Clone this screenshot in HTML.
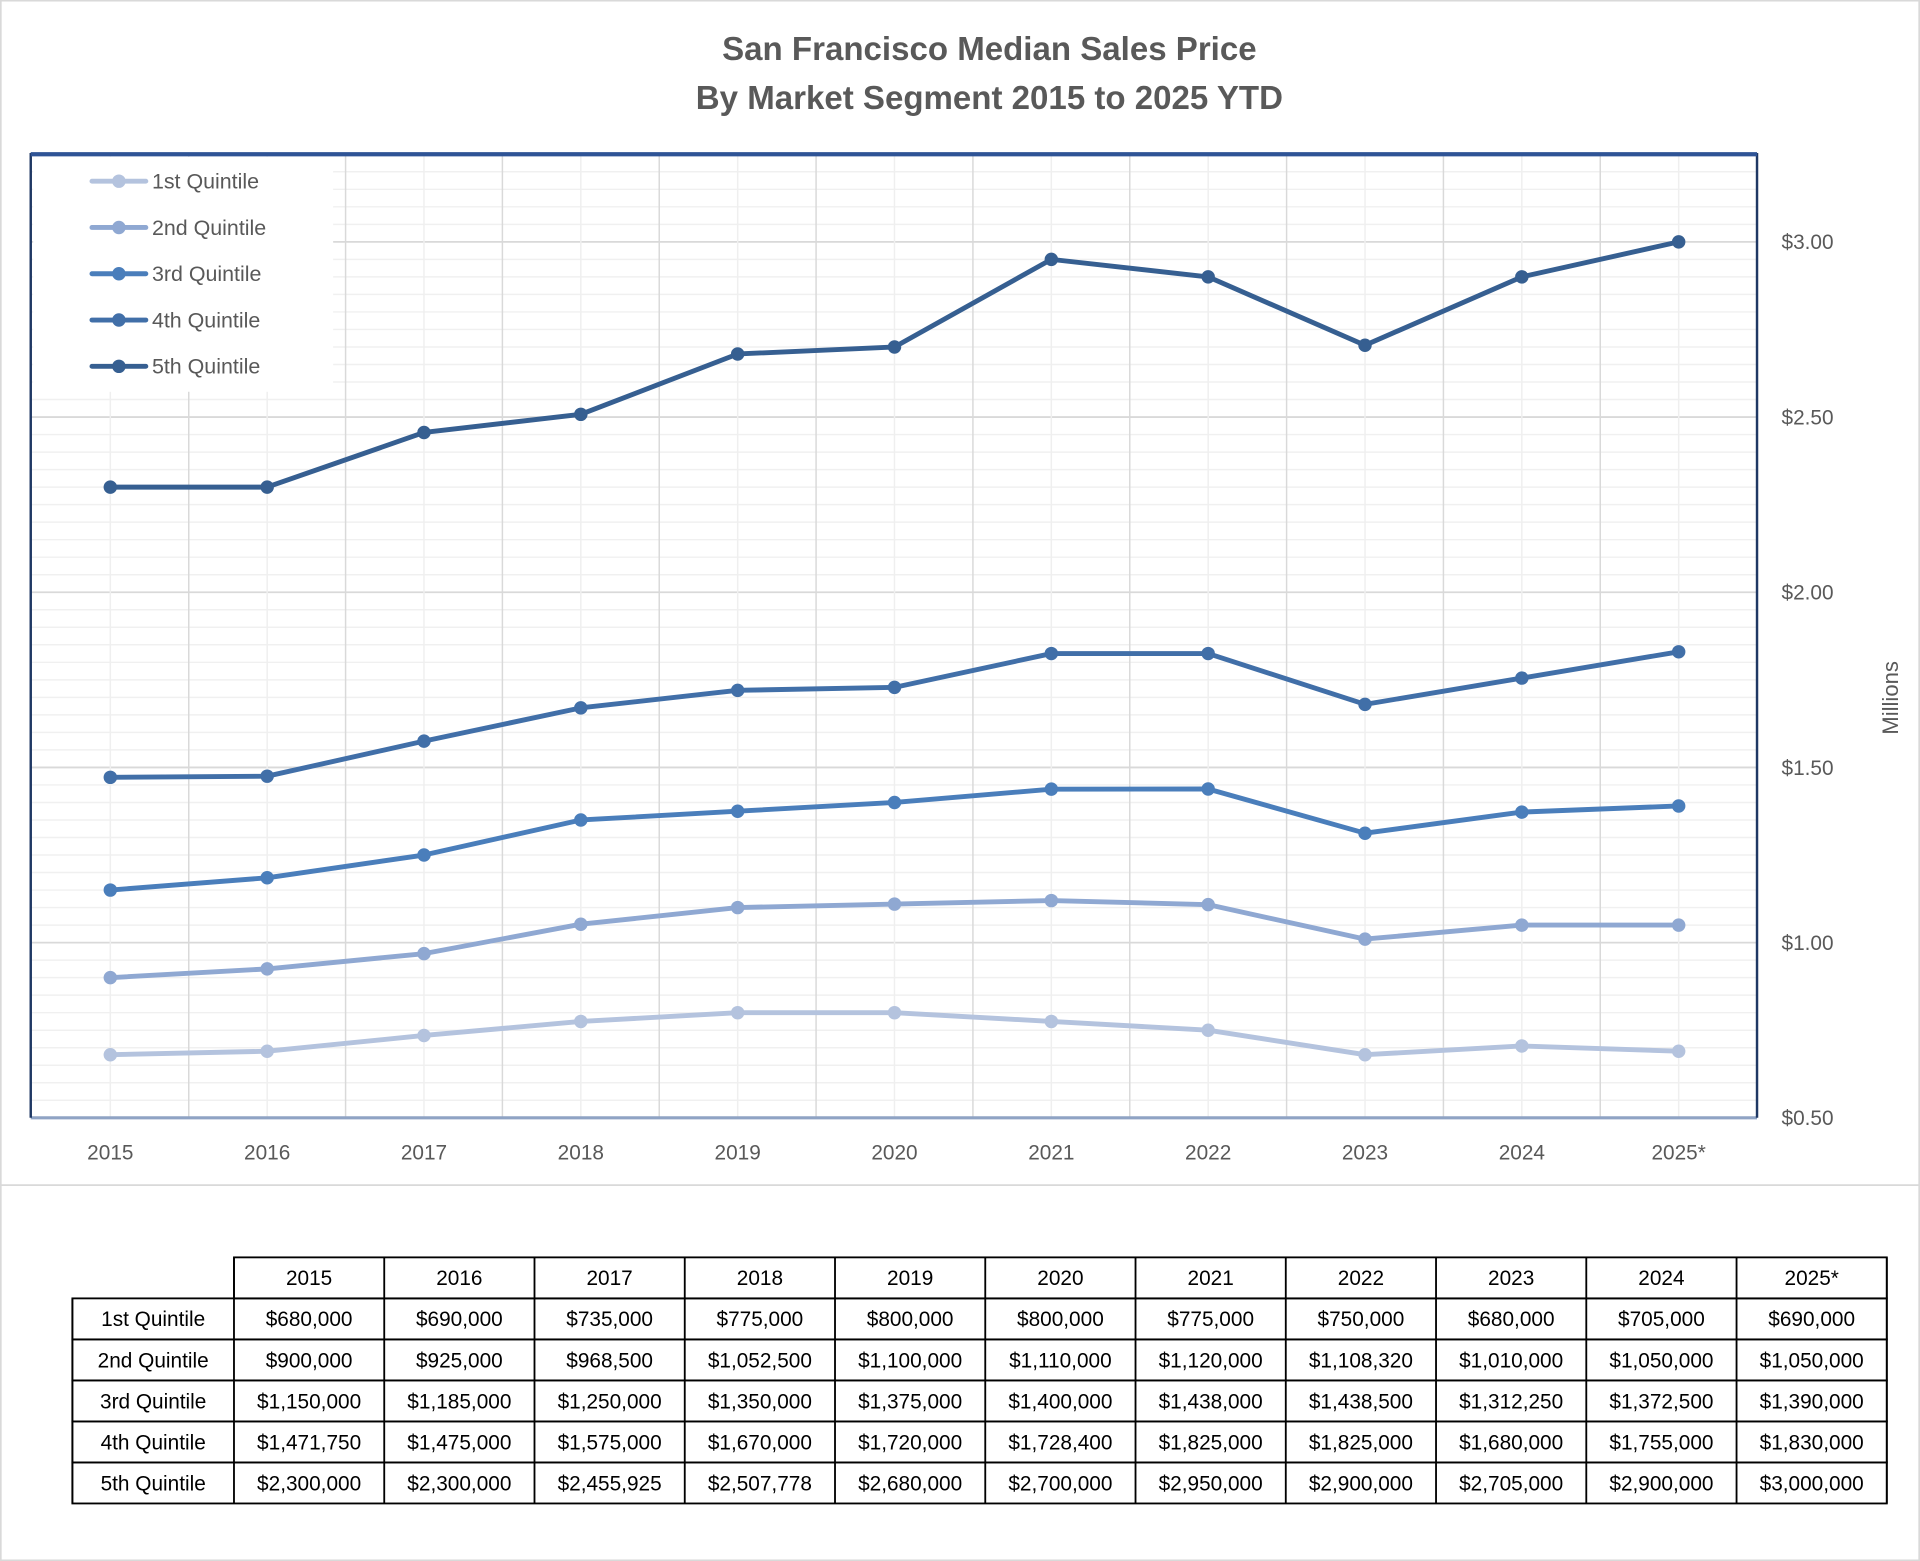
<!DOCTYPE html>
<html><head><meta charset="utf-8"><style>
html,body{margin:0;padding:0;background:#fff;width:1920px;height:1561px;overflow:hidden}
svg{display:block;font-family:"Liberation Sans",sans-serif}
</style></head><body>
<svg id="chart" width="1920" height="1561" viewBox="0 0 1568 1275" xmlns="http://www.w3.org/2000/svg">
<rect x="0.5" y="0.5" width="1567" height="1274" fill="#fff" stroke="#d9d9d9" stroke-width="1.5"/>
<line x1="0" y1="968" x2="1568" y2="968" stroke="#d9d9d9" stroke-width="1.5"/>
<text x="808" y="49" text-anchor="middle" font-size="27" font-weight="bold" fill="#595959">San Francisco Median Sales Price</text>
<text x="808" y="89" text-anchor="middle" font-size="27" font-weight="bold" fill="#595959">By Market Segment 2015 to 2025 YTD</text>
<g id="grid"></g>
<g id="series"></g>
<g id="frame"></g>
<g id="legend"></g>
<g id="axes"></g>
<text x="1550" y="570" text-anchor="middle" font-size="18" fill="#595959" transform="rotate(-90 1550 570)">Millions</text>
<g id="table"></g>
</svg>
<script>
const years = ["2015","2016","2017","2018","2019","2020","2021","2022","2023","2024","2025*"];
const seriesNames = ["1st Quintile","2nd Quintile","3rd Quintile","4th Quintile","5th Quintile"];
const q1 = [680000,690000,735000,775000,800000,800000,775000,750000,680000,705000,690000];
const q2 = [900000,925000,968500,1052500,1100000,1110000,1120000,1108320,1010000,1050000,1050000];
const q3 = [1150000,1185000,1250000,1350000,1375000,1400000,1438000,1438500,1312250,1372500,1390000];
const q4 = [1471750,1475000,1575000,1670000,1720000,1728400,1825000,1825000,1680000,1755000,1830000];
const q5 = [2300000,2300000,2455925,2507778,2680000,2700000,2950000,2900000,2705000,2900000,3000000];
const yTicks = [0.5,1.0,1.5,2.0,2.5,3.0];
const yTickLabels = ["$0.50","$1.00","$1.50","$2.00","$2.50","$3.00"];

const allSeries = [q1,q2,q3,q4,q5];
const colors = ["#b4c3de","#8fa8d2","#4a7ebb","#416fa8","#365f91"];
const NS = "http://www.w3.org/2000/svg";
const PL=25, PR=1435, PT=126, PB=913, YMIN=0.5, YMAX=3.25;
const X0=90, XSTEP=(1371-90)/10;
function xPos(i){return X0+i*XSTEP;}
function yPos(v){return PB-(v-YMIN)/(YMAX-YMIN)*(PB-PT);}
function mk(tag,attrs,parent){const e=document.createElementNS(NS,tag);for(const k in attrs)e.setAttribute(k,attrs[k]);parent.appendChild(e);return e;}
const grid=document.getElementById('grid');
// minor horizontal
for(let v=YMIN+0.05;v<YMAX-0.001;v+=0.05){
  const major=Math.abs(v*2-Math.round(v*2))<0.001;
  const l=mk('line',{x1:PL,x2:PR,y1:yPos(v),y2:yPos(v),stroke:major?'#d9d9d9':'#f0f0f0','stroke-width':major?1.5:1.2},grid);
  
  
}
// vertical
for(let i=0;i<years.length;i++){
  const c=mk('line',{x1:xPos(i),x2:xPos(i),y1:PT,y2:PB,stroke:'#efefef','stroke-width':1.2},grid);
  
  
  if(i<years.length-1){
    const xm=xPos(i)+XSTEP/2;
    const m=mk('line',{x1:xm,x2:xm,y1:PT,y2:PB,stroke:'#d9d9d9','stroke-width':1.2},grid);
    
    
  }
}
// legend background
const lb=mk('rect',{x:PL+2,y:PT+2,width:245,height:192,fill:'#fff'},grid);


// series
const sg=document.getElementById('series');
allSeries.forEach((s,si)=>{
  const pts=s.map((v,i)=>xPos(i)+','+yPos(v/1e6)).join(' ');
  const pl=mk('polyline',{points:pts,fill:'none',stroke:colors[si],'stroke-width':4,'stroke-linejoin':'round','stroke-linecap':'round'},sg);
  
  
  s.forEach((v,i)=>{
    const c=mk('circle',{cx:xPos(i),cy:yPos(v/1e6),r:5.5,fill:colors[si]},sg);
    
    
  });
});
// frame
const fr=document.getElementById('frame');
const f1=mk('line',{x1:PL,x2:PR,y1:PB,y2:PB,stroke:'#8fa3c4','stroke-width':2.5},fr);


const f2=mk('path',{d:`M${PL},${PB} V${PT} H${PR} V${PB}`,fill:'none',stroke:'#1f3864','stroke-width':2},fr);


const f3=mk('line',{x1:PL,x2:PR,y1:PT,y2:PT,stroke:'#2f5496','stroke-width':3.5},fr);


// legend
const lg=document.getElementById('legend');
seriesNames.forEach((n,i)=>{
  const y=148+i*37.8;
  const g=mk('g',{},lg);
  
  
  mk('line',{x1:75,x2:119,y1:y,y2:y,stroke:colors[i],'stroke-width':4,'stroke-linecap':'round'},g);
  mk('circle',{cx:97,cy:y,r:5.5,fill:colors[i]},g);
  const t=mk('text',{x:124,y:y+6,'font-size':17.5,fill:'#595959'},g);
  t.textContent=n;
});
// axes labels
const ax=document.getElementById('axes');
yTicks.forEach((v,i)=>{
  const t=mk('text',{x:1455,y:yPos(v)+6,'font-size':17,fill:'#595959'},ax);
  t.textContent=yTickLabels[i];
  
  
});
years.forEach((y,i)=>{
  const t=mk('text',{x:xPos(i),y:947,'text-anchor':'middle','font-size':17,fill:'#595959'},ax);
  t.textContent=y;
  
  
});
// table
const tb=document.getElementById('table');
const TL=59, TC=191, TR=1541, TT=1027, RH=33.5;
const CW=(TR-TC)/11;
function fmt(v){return '$'+v.toLocaleString('en-US');}
// header
const hdr=mk('rect',{x:TC,y:TT,width:TR-TC,height:RH,fill:'none',stroke:'#000','stroke-width':1.5},tb);


years.forEach((y,i)=>{
  const t=mk('text',{x:TC+CW*(i+0.5),y:TT+RH/2+6,'text-anchor':'middle','font-size':17,fill:'#000'},tb);
  t.textContent=y;
  
  
});
allSeries.forEach((s,si)=>{
  const y0=TT+RH*(si+1);
  const r=mk('rect',{x:TL,y:y0,width:TR-TL,height:RH,fill:'none',stroke:'#000','stroke-width':1.5},tb);
  
  
  const lt=mk('text',{x:(TL+TC)/2,y:y0+RH/2+6,'text-anchor':'middle','font-size':17,fill:'#000'},tb);
  lt.textContent=seriesNames[si];
  
  
  s.forEach((v,i)=>{
    const t=mk('text',{x:TC+CW*(i+0.5),y:y0+RH/2+6,'text-anchor':'middle','font-size':17,fill:'#000'},tb);
    t.textContent=fmt(v);
    
    
  });
});
for(let i=0;i<=11;i++){
  const x=TC+CW*i;
  const l=mk('line',{x1:x,x2:x,y1:TT,y2:TT+RH*6,stroke:'#000','stroke-width':1.5},tb);
  
  
}
const lv=mk('line',{x1:TL,x2:TL,y1:TT+RH,y2:TT+RH*6,stroke:'#000','stroke-width':1.5},tb);


</script>
</body></html>
